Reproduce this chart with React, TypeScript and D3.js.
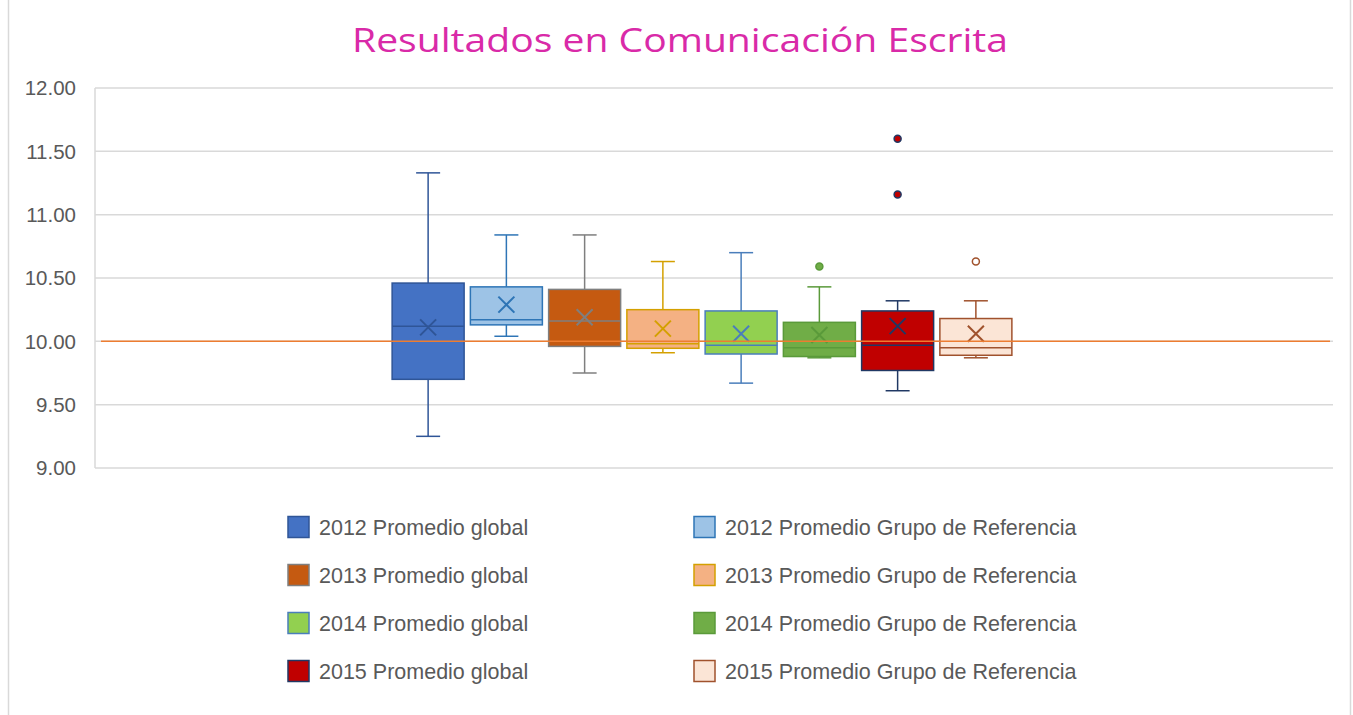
import React from "react";
import * as d3 from "d3";

// box plot stats, one entry per series
const seriesNames = [
  "2012 Promedio global",
  "2012 Promedio Grupo de Referencia",
  "2013 Promedio global",
  "2013 Promedio Grupo de Referencia",
  "2014 Promedio global",
  "2014 Promedio Grupo de Referencia",
  "2015 Promedio global",
  "2015 Promedio Grupo de Referencia",
];
const whiskerLow = [9.25, 10.04, 9.75, 9.91, 9.67, 9.87, 9.61, 9.87];
const quartile1 = [9.7, 10.13, 9.96, 9.945, 9.9, 9.88, 9.77, 9.89];
const medians = [10.12, 10.17, 10.16, 9.98, 9.97, 9.95, 9.97, 9.95];
const quartile3 = [10.46, 10.43, 10.41, 10.25, 10.24, 10.15, 10.24, 10.18];
const whiskerHigh = [11.33, 10.84, 10.84, 10.63, 10.7, 10.43, 10.32, 10.32];
const means = [10.11, 10.29, 10.19, 10.1, 10.06, 10.05, 10.12, 10.06];
const outliers: number[][] = [[], [], [], [], [], [10.59], [11.6, 11.16], [10.63]];
const referenceValue = 10.0;
const yTicks = [9, 9.5, 10, 10.5, 11, 11.5, 12];

const fills = ["#4472C4", "#9DC3E6", "#C55A11", "#F4B183", "#92D050", "#70AD47", "#C00000", "#FBE5D6"];
const strokes = ["#2F5597", "#2E75B6", "#7F7F7F", "#D4A000", "#4A7EBB", "#5A9A3A", "#203864", "#A0522D"];
const outlierFills = ["", "", "", "", "", "#70AD47", "#C00000", "#FFFFFF"];

const W = 1353;
const H = 715;
const plot = { left: 95, right: 1333, top: 88, bottom: 468 };

export default function App() {
  const y = d3.scaleLinear().domain([9, 12]).range([plot.bottom, plot.top]);
  const x = d3
    .scaleBand<number>()
    .domain(d3.range(seriesNames.length))
    .range([389, 1015])
    .paddingInner(0);
  const boxW = 72;
  const capW = 24;
  const fmt = d3.format(".2f");

  return (
    <svg
      width={W}
      height={H}
      style={{ position: "absolute", left: 0, top: 0, background: "#fff" }}
      fontFamily="'Liberation Sans', Arial, sans-serif"
    >
      <line x1={8.5} x2={8.5} y1={0} y2={H} stroke="#D9D9D9" strokeWidth={1.5} />
      <line x1={1350.5} x2={1350.5} y1={0} y2={H} stroke="#D9D9D9" strokeWidth={1.5} />

      <text
        x={352}
        y={52}
        fontSize={32}
        fill="#D92AA8"
        fontFamily="'Open Sans', sans-serif"
        textLength={656}
        lengthAdjust="spacingAndGlyphs"
      >
        Resultados en Comunicación Escrita
      </text>

      {/* grid + axis */}
      {yTicks.map((t) => (
        <g key={t}>
          <line x1={plot.left} x2={plot.right} y1={y(t)} y2={y(t)} stroke="#D9D9D9" strokeWidth={1.5} />
          <text x={76} y={y(t)} dy="0.35em" textAnchor="end" fontSize={20.5} fill="#595959">
            {fmt(t)}
          </text>
        </g>
      ))}
      <line x1={plot.left} x2={plot.left} y1={plot.top} y2={plot.bottom} stroke="#D9D9D9" strokeWidth={1.5} />

      {/* boxes */}
      {seriesNames.map((name, i) => {
        const cx = (x(i) as number) + x.bandwidth() / 2;
        const s = strokes[i];
        const mx = y(means[i]);
        return (
          <g key={name}>
            <line x1={cx} x2={cx} y1={y(whiskerHigh[i])} y2={y(quartile3[i])} stroke={s} strokeWidth={1.5} />
            <line x1={cx} x2={cx} y1={y(quartile1[i])} y2={y(whiskerLow[i])} stroke={s} strokeWidth={1.5} />
            <line x1={cx - capW / 2} x2={cx + capW / 2} y1={y(whiskerHigh[i])} y2={y(whiskerHigh[i])} stroke={s} strokeWidth={1.5} />
            <line x1={cx - capW / 2} x2={cx + capW / 2} y1={y(whiskerLow[i])} y2={y(whiskerLow[i])} stroke={s} strokeWidth={1.5} />
            <rect
              x={cx - boxW / 2}
              y={y(quartile3[i])}
              width={boxW}
              height={y(quartile1[i]) - y(quartile3[i])}
              fill={fills[i]}
              stroke={s}
              strokeWidth={1.5}
            />
            <line x1={cx - boxW / 2} x2={cx + boxW / 2} y1={y(medians[i])} y2={y(medians[i])} stroke={s} strokeWidth={1.5} />
            <path
              d={`M${cx - 8},${mx - 8}L${cx + 8},${mx + 8}M${cx - 8},${mx + 8}L${cx + 8},${mx - 8}`}
              stroke={s}
              strokeWidth={2}
              fill="none"
            />
            {outliers[i].map((o) => (
              <circle key={o} cx={cx} cy={y(o)} r={3.5} fill={outlierFills[i]} stroke={s} strokeWidth={1.5} />
            ))}
          </g>
        );
      })}

      {/* reference line at 10 */}
      <line
        x1={plot.left + 6}
        x2={plot.right - 3}
        y1={y(referenceValue)}
        y2={y(referenceValue)}
        stroke="#ED7D31"
        strokeWidth={1.5}
      />

      {/* legend */}
      {seriesNames.map((name, i) => {
        const col = i % 2;
        const row = Math.floor(i / 2);
        const lx = col === 0 ? 288 : 694;
        const ly = 527 + row * 48;
        return (
          <g key={"lg" + name}>
            <rect x={lx} y={ly - 10.5} width={21} height={21} fill={fills[i]} stroke={strokes[i]} strokeWidth={1.5} />
            <text x={lx + 31} y={ly} dy="0.36em" fontSize={21.5} fill="#595959">
              {name}
            </text>
          </g>
        );
      })}
    </svg>
  );
}
